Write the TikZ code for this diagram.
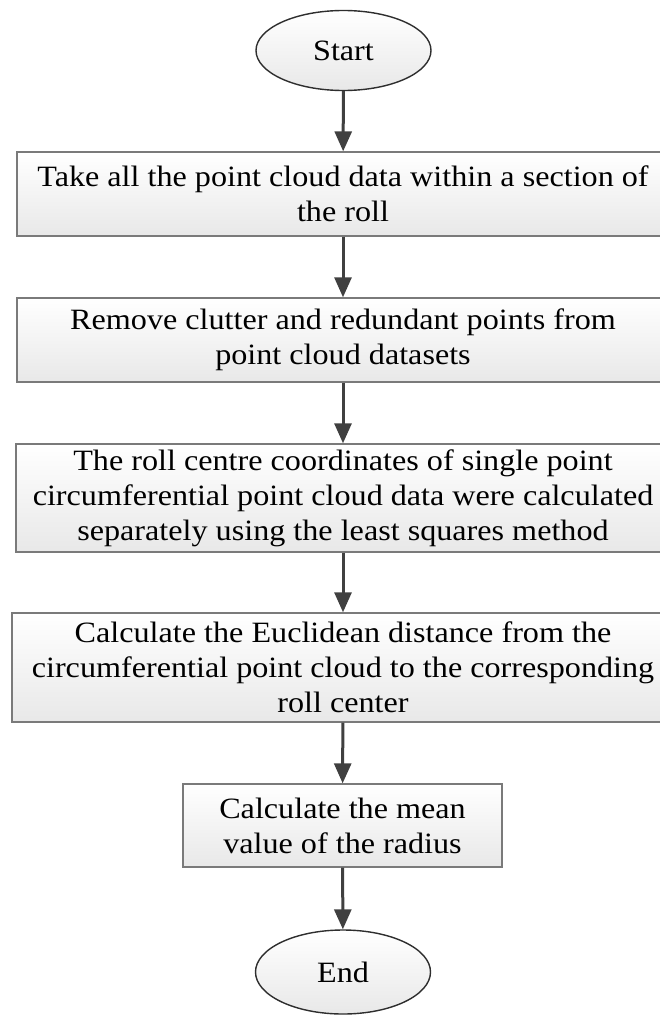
\documentclass[tikz,border=0pt]{standalone}
\usepackage{fontspec}
\setmainfont[FakeStretch=1.09]{Liberation Serif}
\usetikzlibrary{arrows.meta,shapes.geometric}
\definecolor{framegray}{HTML}{7A7A7A}
\definecolor{arrowgray}{HTML}{404040}
\definecolor{ovalline}{HTML}{2E2E2E}
\begin{document}
\begin{tikzpicture}[x=1pt,y=-1pt,
  every node/.style={font=\fontsize{29.5pt}{35pt}\selectfont, align=center, inner sep=0pt},
  stepbox/.style={rectangle, draw=framegray, line width=1.4pt,
    shading=axis, top color=white, bottom color=black!9},
  terminal/.style={ellipse, draw=ovalline, line width=1.4pt,
    shading=axis, top color=white, bottom color=black!9,
    minimum width=175pt, minimum height=80pt},
  flow/.style={draw=arrowgray, line width=3pt,
    -{Triangle[length=20pt,width=17pt]}}]
\useasboundingbox (0,0) rectangle (660,1017);
\clip (0,0) rectangle (660,1017);

\node[terminal] (start) at (343.5,50.5) {Start};

\node[stepbox, minimum width=652pt, minimum height=84pt] (b1) at (343,194)
  {Take all the point cloud data within a section of\\the roll};
\node[stepbox, minimum width=652pt, minimum height=84pt] (b2) at (343,340)
  {Remove clutter and redundant points from\\point cloud datasets};
\node[stepbox, minimum width=654pt, minimum height=108pt] (b3) at (343,498)
  {The roll centre coordinates of single point\\circumferential point cloud data were calculated\\separately using the least squares method};
\node[stepbox, minimum width=662pt, minimum height=109pt] (b4) at (343,667.5)
  {Calculate the Euclidean distance from the\\circumferential point cloud to the corresponding\\roll center};
\node[stepbox, minimum width=319pt, minimum height=83pt] (b5) at (342.5,825.5)
  {Calculate the mean\\value of the radius};

\node[terminal, minimum height=84pt] (end) at (343,972) {End};

\draw[flow] (start) -- (b1);
\draw[flow] (b1) -- (b2);
\draw[flow] (b2) -- (b3);
\draw[flow] (b3) -- (b4);
\draw[flow] (b4) -- (b5);
\draw[flow] (b5) -- (end);
\end{tikzpicture}
\end{document}
